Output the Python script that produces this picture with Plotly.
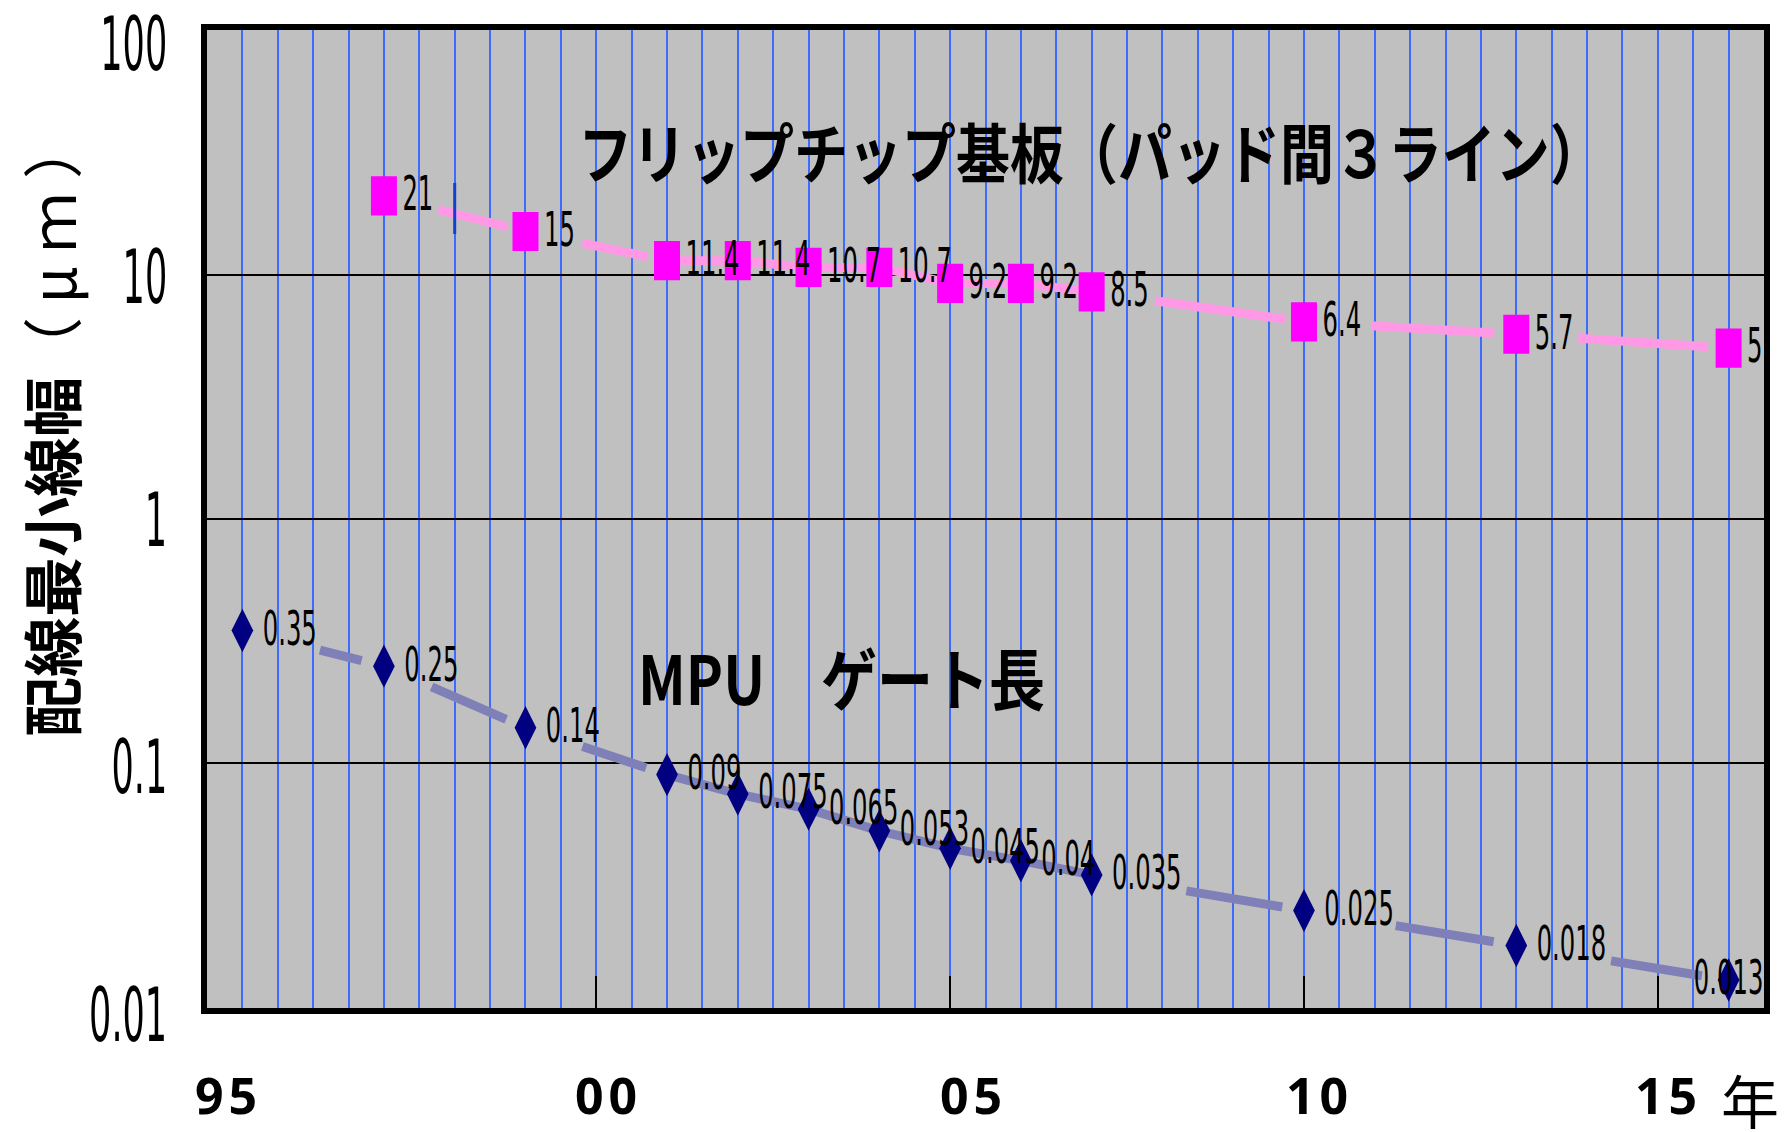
import math
import plotly.graph_objects as go

# ---------------- data ----------------
years_mpu = [1995, 1997, 1999, 2001, 2002, 2003, 2004, 2005, 2006, 2007, 2010, 2013, 2016]
mpu_gate = [0.35, 0.25, 0.14, 0.09, 0.075, 0.065, 0.053, 0.045, 0.04, 0.035, 0.025, 0.018, 0.013]
mpu_labels = ["0.35", "0.25", "0.14", "0.09", "0.075", "0.065", "0.053", "0.045", "0.04",
              "0.035", "0.025", "0.018", "0.013"]

years_fc = [1997, 1999, 2001, 2002, 2003, 2004, 2005, 2006, 2007, 2010, 2013, 2016]
fc_width = [21, 15, 11.4, 11.4, 10.7, 10.7, 9.2, 9.2, 8.5, 6.4, 5.7, 5]
fc_labels = ["21", "15", "11.4", "11.4", "10.7", "10.7", "9.2", "9.2", "8.5", "6.4", "5.7", "5"]

x_label_years = [1995, 2000, 2005, 2010, 2015]
x_label_text = ["9\u200a5", "0\u200a0", "0\u200a5", "1\u200a0", "1\u200a5"]
x_tick_years = [2000, 2005, 2010, 2015]
y_tick_vals = [0.01, 0.1, 1, 10, 100]
y_tick_text = ["0.01", "0.1", "1", "10", "100"]

y_title = "<b>配線最小線幅</b>（ μ ｍ ）"
fc_title = "<b>フリップチップ基板（パッド間３ライン）</b>"
mpu_title = "<b>MPU　ゲート長</b>"
year_unit = "年"

# ---------------- layout / style ----------------
W, H = 1787, 1132
ML, MR, MT, MB = 207, 23, 30, 124
PW = W - ML - MR
PH = H - MT - MB
X_RANGE = [1994.5, 2016.5]
Y_LOG_RANGE = [-2.0005, 2.0005]

NARROW = "Liberation Sans Narrow, Arial Narrow, DejaVu Sans Condensed, sans-serif"
CJK = "Noto Sans CJK JP, Noto Sans, sans-serif"
GRID_BLUE = "#3D6BFF"

# gaps (px) at start / end of each connecting segment, so the line stops around labels
mpu_gaps = [(80, 23), (52, 21), (60, 22), (0, 0), (0, 0), (0, 0), (0, 0), (0, 0), (0, 0),
            (96, 22), (93, 23), (96, 27)]
fc_gaps = [(56, 19), (58, 20), (0, 0), (0, 0), (0, 0), (0, 0), (0, 0), (0, 0),
           (64, 19), (67, 22), (62, 21)]
x_label_shift = [-16, 10, 21, 13, 8]


def px(xpx):
    return (xpx - ML) / PW


def py(ypx):
    return (H - MB - ypx) / PH


def seg_len(x0, y0, x1, y1):
    dx = (x1 - x0) / (X_RANGE[1] - X_RANGE[0]) * PW
    dy = (math.log10(y0) - math.log10(y1)) / (Y_LOG_RANGE[1] - Y_LOG_RANGE[0]) * PH
    return math.hypot(dx, dy)


def add_segments(fig, xs, ys, gaps, color):
    for i in range(len(xs) - 1):
        gs, ge = gaps[i]
        L = seg_len(xs[i], ys[i], xs[i + 1], ys[i + 1])
        if gs == 0 and ge == 0:
            dash = "solid"
        else:
            d = max(L - gs - ge, 0)
            dash = f"0px,{gs:.1f}px,{d:.1f}px,{L + 200:.1f}px"
        fig.add_trace(go.Scatter(
            x=[xs[i], xs[i + 1]], y=[ys[i], ys[i + 1]], mode="lines",
            line=dict(color=color, width=9, dash=dash),
            hoverinfo="skip", showlegend=False))


fig = go.Figure()

add_segments(fig, years_fc, fc_width, fc_gaps, "#FF99E6")
add_segments(fig, years_mpu, mpu_gate, mpu_gaps, "#8080B8")

fig.add_trace(go.Scatter(
    x=years_fc, y=fc_width, mode="markers+text",
    text=fc_labels, textposition="middle right",
    textfont=dict(family=NARROW, size=27, color="black"),
    marker=dict(symbol="line-ns", size=28, color="#FF00FF",
                line=dict(color="#FF00FF", width=26)),
    cliponaxis=False, showlegend=False))

mpu_pos = ["middle right"] * (len(years_mpu) - 1) + ["middle center"]
fig.add_trace(go.Scatter(
    x=years_mpu, y=mpu_gate, mode="markers+text",
    text=mpu_labels, textposition=mpu_pos,
    textfont=dict(family=NARROW, size=27, color="black"),
    marker=dict(symbol="diamond-tall", size=31, color="#000080"),
    cliponaxis=False, showlegend=False))

annotations = []
for yr, txt, sh in zip(x_label_years, x_label_text, x_label_shift):
    annotations.append(dict(
        x=yr, xref="x", y=py(1095), yref="paper", text=f"<b>{txt}</b>",
        showarrow=False, xshift=sh, xanchor="center", yanchor="middle",
        font=dict(family="Noto Sans, Open Sans, sans-serif", size=50, color="black")))
annotations.append(dict(
    x=px(1750), y=py(1099), xref="paper", yref="paper", text=year_unit,
    showarrow=False, xanchor="center", yanchor="middle",
    font=dict(family=CJK, size=58, color="black")))
annotations.append(dict(
    x=px(50), y=py(428), xref="paper", yref="paper", text=y_title, textangle=-90,
    showarrow=False, xanchor="center", yanchor="middle",
    font=dict(family=CJK, size=60, color="black")))
annotations.append(dict(
    x=px(576), y=py(150), xref="paper", yref="paper", text=fc_title,
    showarrow=False, xanchor="left", yanchor="middle",
    font=dict(family=CJK, size=54, color="black")))
annotations.append(dict(
    x=px(636), y=py(675), xref="paper", yref="paper", text=mpu_title,
    showarrow=False, xanchor="left", yanchor="middle",
    font=dict(family=CJK, size=56, color="black")))

shapes = [dict(type="line", xref="x", yref="paper", x0=1998, x1=1998,
               y0=py(234), y1=py(183), line=dict(color="#1040D0", width=3))]

fig.update_layout(
    width=W, height=H,
    margin=dict(l=ML, r=MR, t=MT, b=MB, pad=0),
    paper_bgcolor="white", plot_bgcolor="#C0C0C0",
    annotations=annotations, shapes=shapes,
    xaxis=dict(
        range=X_RANGE, tickmode="array", tickvals=x_tick_years, automargin=False,
        showticklabels=False, ticks="inside", ticklen=32, tickwidth=2, tickcolor="black",
        showgrid=True, gridcolor=GRID_BLUE, gridwidth=1.8,
        minor=dict(tick0=0, dtick=0.5, showgrid=True, gridcolor=GRID_BLUE, gridwidth=1.8, ticks=""),
        showline=True, mirror=True, linecolor="black", linewidth=6, zeroline=False),
    yaxis=dict(
        type="log", range=Y_LOG_RANGE, tickmode="array", tickvals=y_tick_vals,
        ticktext=y_tick_text, ticks="", automargin=False, ticklabeloverflow="allow",
        ticklabelstandoff=26,
        tickfont=dict(family=NARROW, size=39, color="black"),
        showgrid=True, gridcolor="black", gridwidth=1.5,
        showline=True, mirror=True, linecolor="black", linewidth=6, zeroline=False),
)

# Remove the default page margin and stretch the narrow texts vertically,
# as they appear in the reference chart.
post_js = """
(function(){
  document.body.style.margin = '0';
  var gd = document.getElementById('{plot_id}');
  if (!gd) { return; }
  function stretch(sel, sy, extra){
    var els = gd.querySelectorAll(sel);
    for (var i = 0; i < els.length; i++){
      var t = els[i];
      var bb = t.getBBox();
      var cy = bb.y + bb.height / 2;
      var dy = 0;
      if (extra && extra.hasOwnProperty(t.textContent)) { dy = extra[t.textContent]; }
      var prev = t.getAttribute('transform') || '';
      t.setAttribute('transform', prev + ' translate(0,' + (cy + dy) + ') scale(1,' + sy + ') translate(0,' + (-cy) + ')');
    }
  }
  stretch('.textpoint text', 1.8);
  stretch('.ytick text', 1.9, {'100': 14, '10': 3, '1': 1, '0.1': 4, '0.01': 7});
  stretch('g.annotation[data-index="7"] text', 1.2);
  stretch('g.annotation[data-index="8"] text', 1.2);
})();
"""

fig.write_html("out.html", post_script=post_js, config={"displayModeBar": False})
